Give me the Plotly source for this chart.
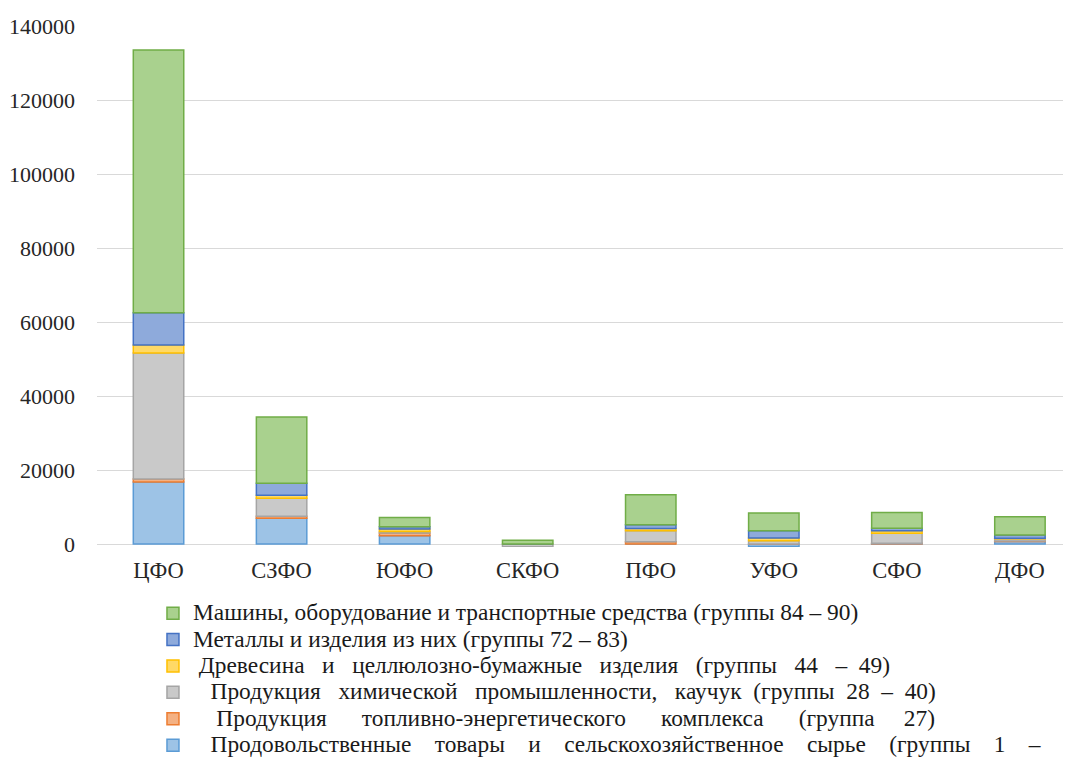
import plotly.graph_objects as go

regions = ["ЦФО", "СЗФО", "ЮФО", "СКФО", "ПФО", "УФО", "СФО", "ДФО"]

food = [16800, 7000, 2250, 0, 0, -650, 100, 700]
fuel = [800, 500, 730, 0, 620, 0, 100, 100]
chem = [34000, 4900, 430, -700, 2970, 900, 2700, 650]
wood = [2200, 800, 650, 0, 620, 700, 700, 100]
metals = [8700, 3200, 620, 0, 1000, 2000, 650, 900]
machines = [71000, 17900, 2500, 1000, 8100, 4800, 4300, 4950]

names = [
    "Продовольственные товары и сельскохозяйственное сырье (группы 1 –",
    "Продукция топливно-энергетического комплекса (группа 27)",
    "Продукция химической промышленности, каучук (группы 28 – 40)",
    "Древесина и целлюлозно-бумажные изделия (группы 44 – 49)",
    "Металлы и изделия из них (группы 72 – 83)",
    "Машины, оборудование и транспортные средства (группы 84 – 90)",
]
# leading spaces and total extra spaces used to imitate the justified text
lead = [3, 4, 3, 1, 0, 0]
extra = [21, 19, 10, 13, 0, 0]

NB = "\u00a0"


def justify(text, lead_n, extra_total):
    words = text.split(" ")
    gaps = len(words) - 1
    base, rem = divmod(extra_total, gaps)
    out = NB * lead_n + words[0]
    for i, w in enumerate(words[1:]):
        n = base + (1 if i < rem else 0)
        out += " " + NB * n + w
    return out


series = [food, fuel, chem, wood, metals, machines]
fills = ["#9dc3e6", "#f4b183", "#c9c9c9", "#ffd966", "#8eaadb", "#a9d18e"]
lines = ["#5b9bd5", "#ed7d31", "#a5a5a5", "#ffc000", "#4472c4", "#70ad47"]

fig = go.Figure()
for vals, nm, ld, ex, fc, lc in zip(series, names, lead, extra, fills, lines):
    label = "<span style='font-size:23.4px'>" + justify(nm, ld, ex) + "</span>"
    fig.add_trace(go.Bar(
        x=regions, y=vals, name=label,
        marker=dict(color=fc, line=dict(color=lc, width=1.5)),
    ))

fig.update_layout(
    width=1071, height=760,
    barmode="relative", bargap=0.59,
    plot_bgcolor="white", paper_bgcolor="white",
    margin=dict(l=89, r=0, t=18, b=221),
    font=dict(family="Liberation Serif", color="#262626", size=22),
    showlegend=True,
    legend=dict(
        orientation="v", traceorder="reversed",
        x=0.057, xanchor="left", y=-0.092, yanchor="top",
        font=dict(family="Liberation Serif", size=18, color="#1a1a1a"),
        bgcolor="rgba(0,0,0,0)",
    ),
    xaxis=dict(
        type="category", range=[-0.5, 7.48],
        showgrid=False, showline=False, ticks="",
        tickfont=dict(size=22.5), ticklabelstandoff=7,
    ),
    yaxis=dict(
        range=[-800, 140000],
        tickvals=[0, 20000, 40000, 60000, 80000, 100000, 120000, 140000],
        tickformat="d",
        showgrid=True, gridcolor="#d9d9d9", gridwidth=1,
        zeroline=True, zerolinecolor="#d9d9d9", zerolinewidth=1,
        showline=False, ticks="", tickfont=dict(size=22), ticklabelstandoff=21,
    ),
)

fig.write_html("out.html")
